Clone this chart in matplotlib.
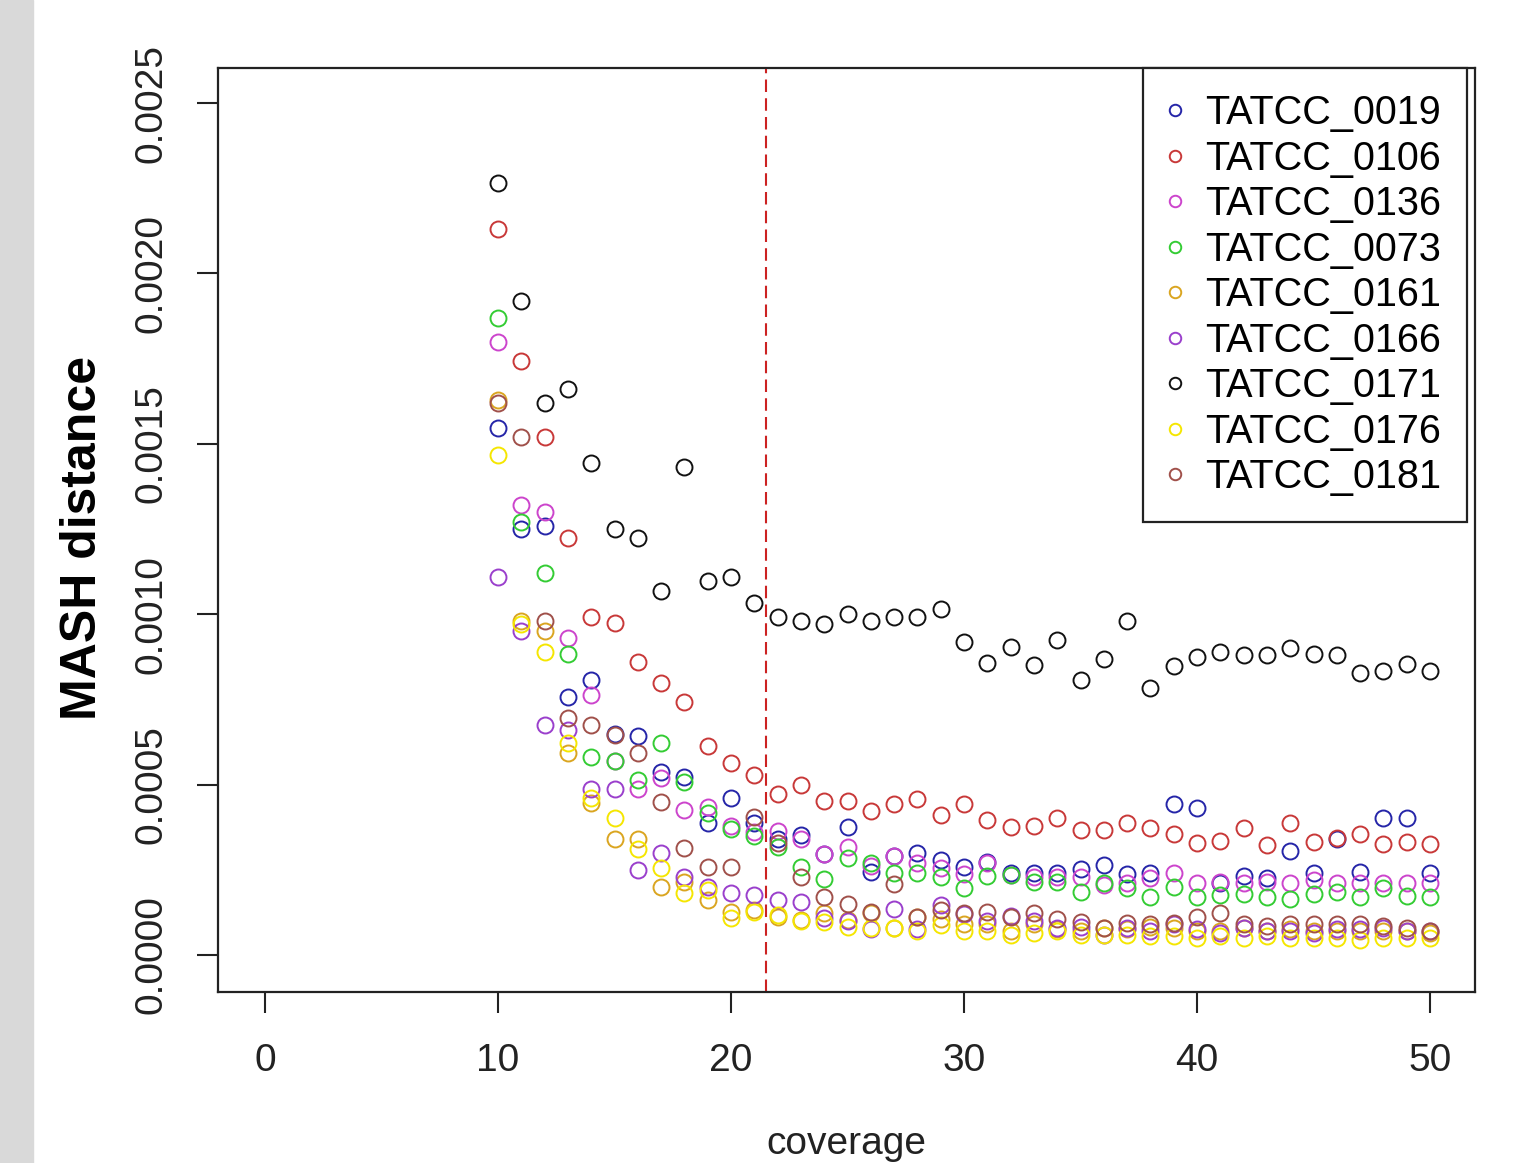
import matplotlib
matplotlib.use("Agg")
from matplotlib import pyplot as plt
from matplotlib.patches import Rectangle

plt.rcParams['font.family'] = ['Liberation Sans', 'DejaVu Sans']

coverage = list(range(10, 51))
cutoff = 21.5

names = ['TATCC_0019', 'TATCC_0106', 'TATCC_0136', 'TATCC_0073', 'TATCC_0161',
         'TATCC_0166', 'TATCC_0171', 'TATCC_0176', 'TATCC_0181']
colors = ['#2525A8', '#C83838', '#CC44CC', '#33CC33', '#DAA520',
          '#9A3FCC', '#111111', '#F5E600', '#A0504A']

tatcc_0019 = [0.001546, 0.00125, 0.00126, 0.000757, 0.000807, 0.00065, 0.000643, 0.000537, 0.000522, 0.000387,
              0.00046, 0.000387, 0.00034, 0.000352, 0.000296, 0.000376, 0.000244, 0.00029, 0.0003, 0.00028,
              0.000258, 0.000273, 0.00024, 0.00024, 0.00024, 0.000252, 0.000264, 0.000238, 0.00024, 0.000443,
              0.000431, 0.00021, 0.000232, 0.000226, 0.000305, 0.00024, 0.00034, 0.000243, 0.000402, 0.000402,
              0.00024]
tatcc_0106 = [0.00213, 0.001743, 0.00152, 0.001224, 0.000992, 0.000974, 0.00086, 0.000798, 0.000742, 0.000613,
              0.000563, 0.000528, 0.000472, 0.000499, 0.000452, 0.000452, 0.000422, 0.000443, 0.000458, 0.000411,
              0.000443, 0.000396, 0.000376, 0.00038, 0.000402, 0.000367, 0.000367, 0.000387, 0.000373, 0.000355,
              0.000329, 0.000335, 0.000373, 0.000323, 0.000387, 0.000332, 0.000343, 0.000355, 0.000326, 0.000332,
              0.000326]
tatcc_0136 = [0.0018, 0.00132, 0.0013, 0.00093, 0.000763, 0.000569, 0.000487, 0.000519, 0.000425, 0.000434,
              0.00038, 0.00036, 0.000364, 0.00034, 0.000296, 0.000317, 0.00026, 0.00029, 0.00027, 0.000255,
              0.000238, 0.00027, 0.000235, 0.000228, 0.000228, 0.00023, 0.000205, 0.00021, 0.000225, 0.00024,
              0.00021, 0.000214, 0.00021, 0.000214, 0.00021, 0.00022, 0.00021, 0.00021, 0.00021, 0.00021,
              0.00021]
tatcc_0073 = [0.001869, 0.00127, 0.00112, 0.000883, 0.000581, 0.000569, 0.000513, 0.000622, 0.000508, 0.000417,
              0.00037, 0.000349, 0.000317, 0.000258, 0.000223, 0.000285, 0.00027, 0.00024, 0.00024, 0.000229,
              0.000197, 0.000232, 0.000235, 0.000214, 0.000214, 0.000185, 0.00021, 0.000197, 0.00017, 0.0002,
              0.00017, 0.000176, 0.00018, 0.00017, 0.000164, 0.00018, 0.000185, 0.00017, 0.000197, 0.000173,
              0.00017]
tatcc_0161 = [0.00163, 0.00098, 0.00095, 0.000593, 0.000446, 0.00034, 0.00034, 0.0002, 0.000214, 0.000161,
              0.000126, 0.000132, 0.000111, 0.000103, 0.000123, 0.000103, 0.000123, 0.00008, 0.000111, 0.000106,
              0.00009, 0.00009, 0.00007, 0.00009, 0.000075, 0.00007, 0.00008, 0.000075, 0.000082, 0.00008,
              0.00007, 0.00007, 0.00008, 0.00007, 0.000075, 0.00007, 0.00007, 0.00007, 0.00007, 0.00007,
              0.000065]
tatcc_0166 = [0.00111, 0.00095, 0.000675, 0.00066, 0.000487, 0.000487, 0.000249, 0.000299, 0.000229, 0.0002,
              0.000182, 0.000176, 0.00016, 0.000155, 0.00011, 0.0001, 0.000076, 0.000135, 0.000076, 0.000147,
              0.00012, 0.0001, 0.000115, 0.0001, 0.00008, 0.000082, 0.00006, 0.00008, 0.00007, 0.00009,
              0.000075, 0.000065, 0.00008, 0.00007, 0.00007, 0.000065, 0.000075, 0.000075, 0.00008, 0.00007,
              0.00007]
tatcc_0171 = [0.002265, 0.001919, 0.00162, 0.00166, 0.001444, 0.00125, 0.001224, 0.001068, 0.001432, 0.001097,
              0.001109, 0.001033, 0.000992, 0.00098, 0.000971, 0.001, 0.00098, 0.000992, 0.000992, 0.001015,
              0.000918, 0.000857, 0.000904, 0.000851, 0.000924, 0.000807, 0.000868, 0.00098, 0.000783, 0.000848,
              0.000874, 0.000889, 0.00088, 0.00088, 0.000901, 0.000883, 0.00088, 0.000827, 0.000833, 0.000854,
              0.000833]
tatcc_0176 = [0.001467, 0.00097, 0.00089, 0.000622, 0.00046, 0.000402, 0.000311, 0.000255, 0.000182, 0.000191,
              0.000109, 0.000126, 0.000117, 0.0001, 0.000097, 0.000082, 0.00008, 0.000079, 0.00007, 0.000088,
              0.00007, 0.00007, 0.00006, 0.000065, 0.00007, 0.000059, 0.00006, 0.00006, 0.000055, 0.000055,
              0.00005, 0.000055, 0.00005, 0.000055, 0.00005, 0.00005, 0.00005, 0.000045, 0.00005, 0.00005,
              0.00005]
tatcc_0181 = [0.00162, 0.00152, 0.00098, 0.000695, 0.000675, 0.000645, 0.000593, 0.000449, 0.000314, 0.000258,
              0.000258, 0.000405, 0.000329, 0.000229, 0.00017, 0.00015, 0.000126, 0.000208, 0.000111, 0.000132,
              0.000123, 0.000126, 0.000111, 0.000123, 0.000106, 0.000097, 0.00008, 0.000094, 0.00009, 0.000094,
              0.000111, 0.000123, 0.00009, 0.000085, 0.00009, 0.00009, 0.00009, 0.00009, 0.000085, 0.00008,
              0.00007]

series = [tatcc_0019, tatcc_0106, tatcc_0136, tatcc_0073, tatcc_0161,
          tatcc_0166, tatcc_0171, tatcc_0176, tatcc_0181]

fig = plt.figure(figsize=(15.16, 11.63), dpi=100)
fig.patches.append(Rectangle((0, 0), 33 / 1516, 1, transform=fig.transFigure,
                             color='#D9D9D9', zorder=0))
ax = fig.add_axes([218 / 1516, 1 - 992 / 1163, (1475 - 218) / 1516, (992 - 68) / 1163])

for vals, name, c in zip(series, names, colors):
    ax.plot(coverage, vals, 'o', mfc='none', mec=c, ms=11.5, mew=1.4, label=name)

# coverage cutoff
ax.axvline(cutoff, color='#CC2222', ls=(0, (6, 3)), lw=1.5)

ax.set_xlim(-2.02, 51.93)
ax.set_ylim(-0.0001086, 0.002603)
ax.set_xticks([0, 10, 20, 30, 40, 50])
ax.set_yticks([0, 0.0005, 0.001, 0.0015, 0.002, 0.0025])
ax.set_yticklabels(['0.0000', '0.0005', '0.0010', '0.0015', '0.0020', '0.0025'])
ax.tick_params(direction='out', length=15, width=1.5, labelsize=28, colors='#222222')
ax.tick_params(axis='x', pad=22)
ax.tick_params(axis='y', pad=20, labelrotation=90)
for lab in ax.get_yticklabels():
    lab.set_va('center')
for sp in ax.spines.values():
    sp.set_linewidth(1.6)
    sp.set_color('#222222')

leg = ax.legend(loc='upper right', bbox_to_anchor=((1467 - 218) / (1475 - 218), 1.0),
                borderaxespad=0, fontsize=28.5, markerscale=0.72, handletextpad=0.6,
                labelspacing=0.19, borderpad=0.66, handlelength=0.3, fancybox=False,
                edgecolor='#222222', framealpha=1)
leg.get_frame().set_linewidth(1.6)

fig.text(83 / 1516, 1 - 538 / 1163, 'MASH distance', rotation=90, fontsize=36,
         fontweight='bold', ha='center', va='center')
fig.text(846 / 1516, 1 - 1154 / 1163, 'coverage', fontsize=28, ha='center',
         va='baseline', color='#222222')

fig.savefig('out.png', dpi=100)
